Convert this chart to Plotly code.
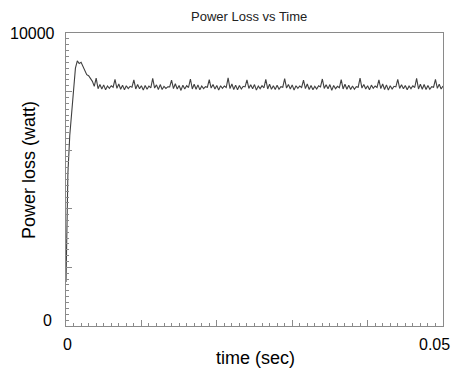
import plotly.graph_objects as go

dt = 0.00025
power = [
    1500, 5200, 6500, 7200, 8100, 8800, 9050, 8960, 9000, 8850,
    8700, 8580, 8540, 8430, 8350, 8180, 8460, 8100, 8240, 8090,
    8230, 8060, 8190, 8110, 8200, 8150,
    8420, 8110, 8260, 8080, 8220, 8060, 8200, 8100, 8180, 8150,
    8400, 8090, 8240, 8100, 8200, 8050, 8210, 8080, 8190, 8130,
    8450, 8120, 8230, 8070, 8240, 8070, 8180, 8110, 8160, 8160,
    8390, 8100, 8270, 8090, 8210, 8040, 8220, 8090, 8200, 8140,
    8430, 8090, 8250, 8080, 8230, 8060, 8190, 8100, 8170, 8150,
    8410, 8120, 8240, 8090, 8210, 8050, 8200, 8110, 8190, 8140,
    8470, 8100, 8260, 8070, 8220, 8060, 8210, 8090, 8180, 8160,
    8400, 8110, 8230, 8100, 8240, 8050, 8190, 8100, 8200, 8130,
    8420, 8090, 8250, 8080, 8200, 8070, 8220, 8080, 8170, 8150,
    8440, 8120, 8240, 8090, 8230, 8050, 8200, 8110, 8190, 8140,
    8390, 8100, 8260, 8070, 8210, 8060, 8180, 8090, 8200, 8160,
    8430, 8110, 8230, 8100, 8240, 8040, 8210, 8100, 8180, 8130,
    8410, 8090, 8250, 8080, 8220, 8070, 8190, 8080, 8170, 8150,
    8460, 8120, 8240, 8090, 8200, 8060, 8220, 8110, 8190, 8140,
    8400, 8100, 8260, 8070, 8230, 8050, 8200, 8090, 8180, 8160,
    8420, 8110, 8230, 8100, 8210, 8060, 8190, 8100, 8200, 8140,
    8450, 8090, 8250, 8080, 8240, 8070, 8210, 8080, 8170, 8150,
    8420, 8110, 8250, 8090, 8190,
]
time = [i * dt for i in range(len(power))]

x_range = [0, 0.05]
y_range = [0, 10000]
x_tick_labels = ["0", "0.05"]
y_tick_labels = ["0", "10000"]

L, R, T, B = 66, 11, 33, 45
W, H = 454, 371
pw, ph = W - L - R, H - T - B

def px(x):
    return (x - L) / pw

def py(y):
    return (H - B - y) / ph

fig = go.Figure()
fig.add_trace(go.Scatter(x=time, y=power, mode="lines",
                         line=dict(color="#404040", width=1.1),
                         showlegend=False, hoverinfo="skip"))

axis_common = dict(showgrid=False, zeroline=False, showline=True,
                   linecolor="#8a8a8a", linewidth=1, mirror=True,
                   ticks="inside", ticklen=6, tickcolor="#8a8a8a",
                   showticklabels=False)

fig.update_xaxes(range=x_range, dtick=0.01, tick0=0,
                 minor=dict(ticks="inside", ticklen=3, dtick=0.001, tickcolor="#8a8a8a"),
                 **axis_common)
fig.update_yaxes(range=y_range, dtick=2000, tick0=0,
                 minor=dict(ticks="inside", ticklen=3, dtick=200, tickcolor="#8a8a8a"),
                 **axis_common)

font = "Liberation Sans, Arial, sans-serif"
ann = []
ann.append(dict(text="Power Loss vs Time", x=px(249), y=py(16), xref="paper", yref="paper",
                showarrow=False, xanchor="center", yanchor="middle",
                font=dict(family=font, size=13, color="#222")))
ann.append(dict(text=y_tick_labels[1], x=px(32), y=py(33), xref="paper", yref="paper",
                showarrow=False, xanchor="center", yanchor="middle",
                font=dict(family=font, size=16, color="black")))
ann.append(dict(text=y_tick_labels[0], x=px(47), y=py(320), xref="paper", yref="paper",
                showarrow=False, xanchor="center", yanchor="middle",
                font=dict(family=font, size=16, color="black")))
ann.append(dict(text=x_tick_labels[0], x=px(67), y=py(344), xref="paper", yref="paper",
                showarrow=False, xanchor="center", yanchor="middle",
                font=dict(family=font, size=16, color="black")))
ann.append(dict(text=x_tick_labels[1], x=px(452), y=py(344), xref="paper", yref="paper",
                showarrow=False, xanchor="right", yanchor="middle",
                font=dict(family=font, size=16, color="black")))
ann.append(dict(text="time (sec)", x=px(255), y=py(358), xref="paper", yref="paper",
                showarrow=False, xanchor="center", yanchor="middle",
                font=dict(family=font, size=18, color="black")))
ann.append(dict(text="Power loss (watt)", x=px(29), y=py(170), xref="paper", yref="paper",
                showarrow=False, xanchor="center", yanchor="middle", textangle=-90,
                font=dict(family=font, size=18, color="black")))

fig.update_layout(width=W, height=H, margin=dict(l=L, r=R, t=T, b=B),
                  paper_bgcolor="white", plot_bgcolor="white",
                  annotations=ann)

fig.write_html("out.html")
